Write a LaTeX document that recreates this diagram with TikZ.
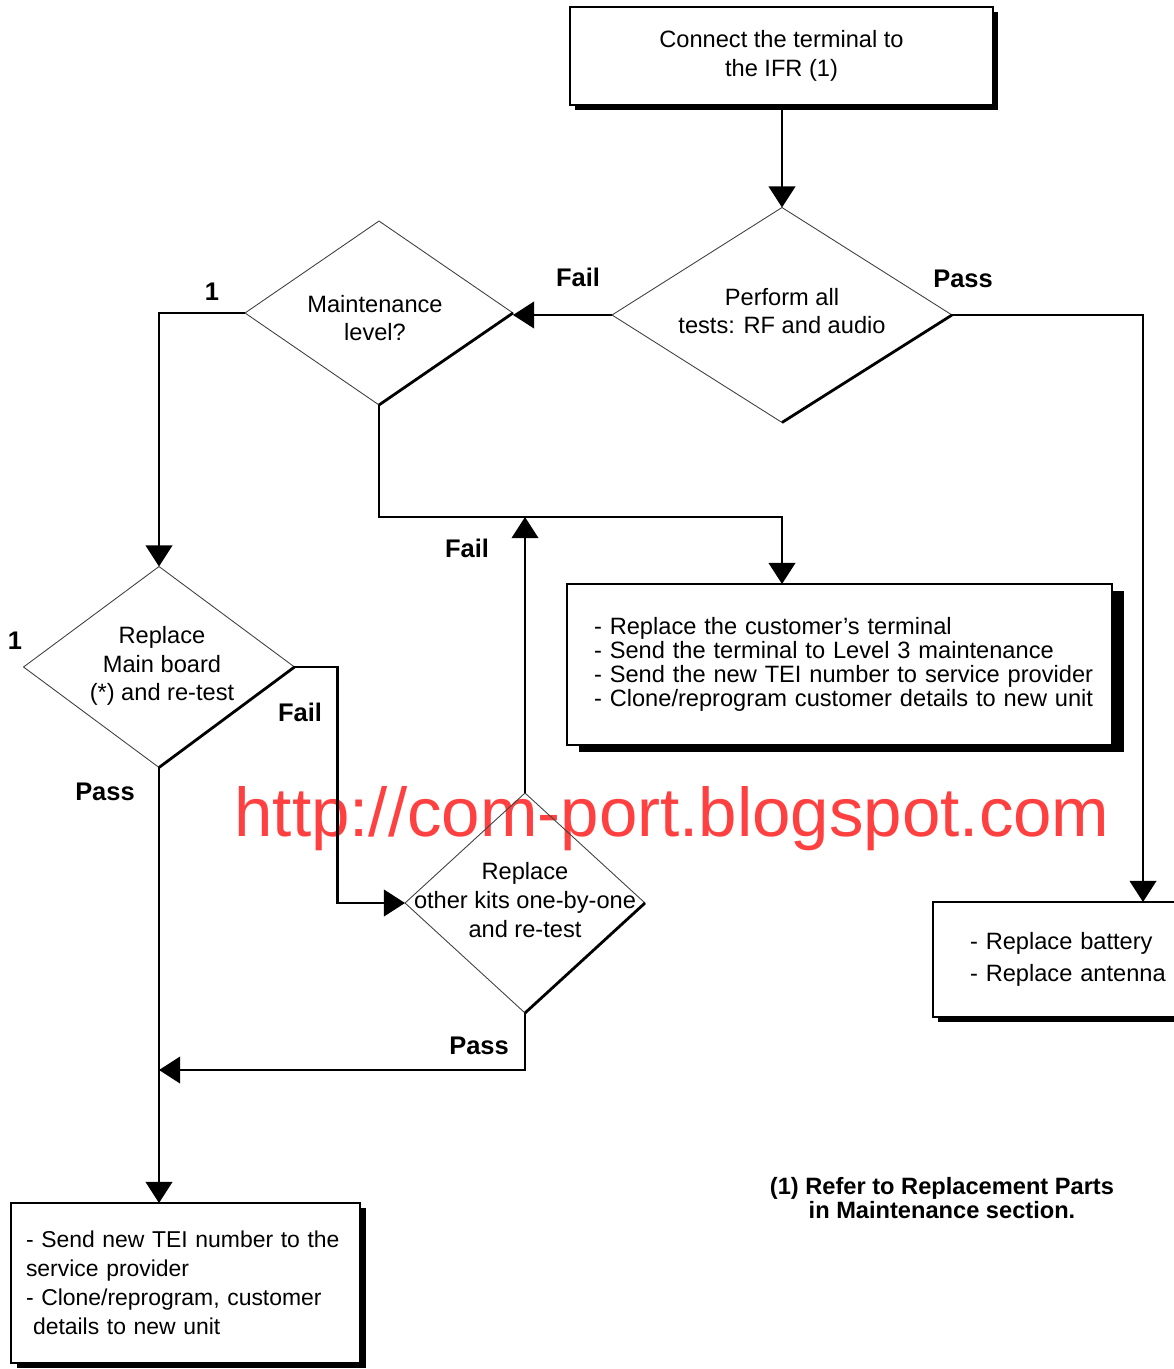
\documentclass[tikz,border=0pt]{standalone}
\usepackage{fontspec}
\setmainfont{Liberation Sans}
\usepackage{tikz}
\usetikzlibrary{arrows.meta,positioning,shapes.geometric,shadows}
\definecolor{markred}{RGB}{255,64,64}
\newcommand{\bodysize}{\fontsize{13.45pt}{16.3pt}\selectfont}
\newcommand{\tightsize}{\fontsize{13.45pt}{13.6pt}\selectfont}
\newcommand{\smallsize}{\fontsize{13.05pt}{16.5pt}\selectfont}
\newcommand{\lblsize}{\fontsize{14.5pt}{16pt}\selectfont\bfseries}

\begin{document}
\begin{tikzpicture}[x=0.02cm, y=-0.02cm,
    flow/.style={line width=1.6pt, -{Triangle[width=15pt,length=12pt]}},
    edge/.style={line width=1.6pt},
    decision/.style={diamond, draw=black!75, line width=0.5pt, inner sep=0pt, outer sep=0pt},
    dtext/.style={align=center, font=\bodysize},
    box/.style={rectangle, draw, line width=0.7pt, fill=white, outer sep=0pt, font=\bodysize},
    shadowed/.style 2 args={drop shadow={shadow xshift=#1, shadow yshift=-#2, opacity=1, fill=black}},
    lbl/.style={font=\lblsize}]
    \useasboundingbox (0,0) rectangle (1173,1369);

    % watermark behind everything
    \node (mark) [anchor=base, text=markred, font=\fontsize{39.3pt}{39.3pt}\selectfont] at (672,836) {http://com-port.blogspot.com};

    % boxes
    \node (conn) [box, shadowed={2.8pt}{2.8pt}, minimum width=8.46cm, minimum height=1.96cm, align=center] at (781.5,56) {Connect the terminal to\\the IFR (1)};
    \node (term) [box, shadowed={6.8pt}{4pt}, minimum height=3.22cm, text width=9.82cm, inner xsep=0.54cm, align=left, font=\tightsize] at (839.5,664.5) {\mbox{- Replace the customer’s terminal}\\\mbox{- Send the terminal to Level 3 maintenance}\\\mbox{- Send the new TEI number to service provider}\\\mbox{- Clone/reprogram customer details to new unit}};
    \node (batt) [box, shadowed={2.8pt}{2.8pt}, minimum height=2.3cm, text width=4cm, inner xsep=0.74cm, align=left] at (1070,959.5) {- Replace battery\\[1.8pt]- Replace antenna};
    \node (send) [box, shadowed={3.4pt}{3pt}, minimum height=3.2cm, text width=6.38cm, inner xsep=0.3cm, align=left, font=\smallsize] at (185.5,1283) {\mbox{- Send new TEI number to the}\\service provider\\\mbox{- Clone/reprogram, customer}\\\hspace*{0.14cm}details to new unit};

    % decisions
    \node (perf) [decision, minimum width=6.8cm, minimum height=4.3cm] at (782,315) {};
    \node (perf-t) [dtext] at (782,311) {Perform all\\tests: RF and audio};
    \node (maint) [decision, minimum width=5.36cm, minimum height=3.68cm] at (379,313) {};
    \node (maint-t) [dtext] at (375,318) {Maintenance\\level?};
    \node (mainb) [decision, minimum width=5.42cm, minimum height=4.02cm] at (159,667) {};
    \node (mainb-t) [dtext] at (162,666) {Replace\\Main board\\(*) and re-test};
    \node (kits) [decision, minimum width=4.8cm, minimum height=4.4cm] at (525,903) {};
    \node (kits-t) [dtext] at (525,900) {Replace\\other kits one-by-one\\and re-test};
    \foreach \d in {perf,maint,mainb,kits}
        \draw[edge] (\d.east) -- (\d.south);

    % connectors
    \coordinate (pass-r) at (1143,315);
    \coordinate (split) at (maint.south |- 0,517);
    \draw[flow] (conn.south -| perf.north) -- (perf.north);
    \draw[flow] (perf.west) -- (perf.west -| maint.east);
    \draw[flow] (perf.east) -- (pass-r) -- (pass-r |- batt.north);
    \draw[flow] (maint.west) -| (mainb.north);
    \draw[flow] (maint.south) -- (split) -| (term.north -| perf.south);
    \draw[flow] (mainb.east) -- ++(43,0) |- (kits.west);
    \draw[flow] (kits.north) -- (kits.north |- split);
    \draw[flow] (kits.south) |- (mainb.south |- 0,1070);
    \draw[flow] (mainb.south) -- (mainb.south |- send.north);

    % labels
    \node (fail1) [lbl] at (578,277) {Fail};
    \node (pass1) [lbl] at (963,279) {Pass};
    \node (one1) [lbl] at (212,292) {1};
    \node (one2) [lbl] at (15,641) {1};
    \node (fail2) [lbl] at (300,712) {Fail};
    \node (pass2) [lbl] at (105,792) {Pass};
    \node (fail3) [lbl] at (467,548) {Fail};
    \node (pass3) [lbl] at (479,1046) {Pass};
    \node (note) [align=center, font=\tightsize\bfseries] at (942,1198) {(1) Refer to Replacement Parts\\in Maintenance section.};
\end{tikzpicture}
\end{document}
